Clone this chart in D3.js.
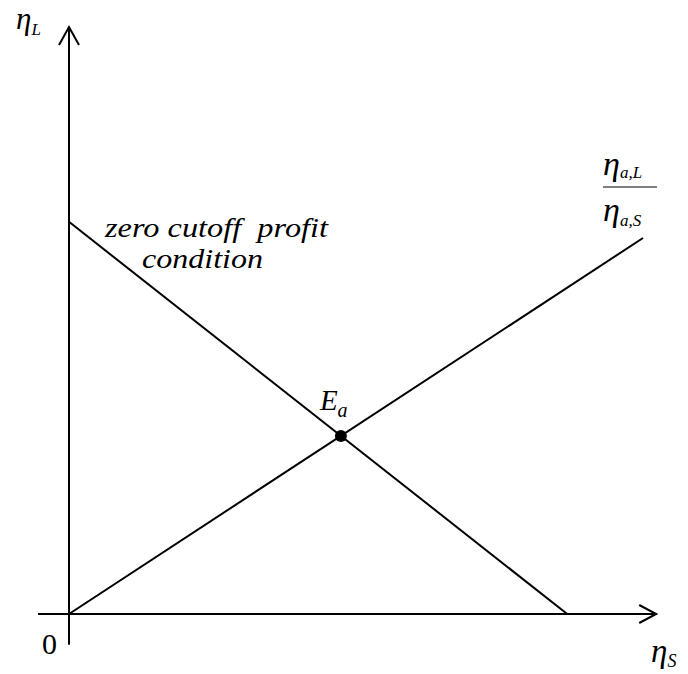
<!DOCTYPE html>
<html>
<head>
<meta charset="utf-8">
<script src="https://cdn.jsdelivr.net/npm/d3@7"></script>
<style>
  html, body { margin: 0; padding: 0; background: #fff; }
  svg { display: block; }
  text { font-family: "Liberation Serif", "Times New Roman", serif; fill: #000; }
</style>
</head>
<body>
<script>
// Model: share of skilled workers on the horizontal axis, labour on the vertical.
const xExtent = [-0.54, 10.23];        // horizontal axis span (eta_S)
const yExtent = [-0.82, 15.61];        // vertical axis span (eta_L)
const zeroProfit = [[0, 10.43], [8.68, 0]];   // zero cutoff profit condition
const ratioRay = [[0, 0], [10, 10]];           // eta_aL / eta_aS ray
const equilibrium = { x: 4.737, y: 4.737, label: "E", sub: "a" };
const curveLabel = ["zero cutoff  profit", "condition"];

const W = 688, H = 674;
const svg = d3.select("body").append("svg").attr("width", W).attr("height", H);

const x = d3.scaleLinear().domain([0, 10]).range([69, 643]);
const y = d3.scaleLinear().domain([0, 10]).range([614, 238]);

const line = d3.line().x(d => x(d[0])).y(d => y(d[1]));

// axes
svg.append("line")
  .attr("x1", x(xExtent[0])).attr("x2", x(xExtent[1]))
  .attr("y1", y(0)).attr("y2", y(0))
  .attr("stroke", "#000").attr("stroke-width", 2);
svg.append("line")
  .attr("x1", x(0)).attr("x2", x(0))
  .attr("y1", y(yExtent[0])).attr("y2", y(yExtent[1]))
  .attr("stroke", "#000").attr("stroke-width", 2);

// open arrow heads
const xt = [x(xExtent[1]), y(0)];
svg.append("path")
  .attr("d", `M${xt[0] - 17},${xt[1] - 9}L${xt[0]},${xt[1]}L${xt[0] - 17},${xt[1] + 9}`)
  .attr("fill", "none").attr("stroke", "#000").attr("stroke-width", 2);
const yt = [x(0), y(yExtent[1])];
svg.append("path")
  .attr("d", `M${yt[0] - 10},${yt[1] + 18}L${yt[0]},${yt[1]}L${yt[0] + 10},${yt[1] + 18}`)
  .attr("fill", "none").attr("stroke", "#000").attr("stroke-width", 2);

// curves
svg.append("path").attr("d", line(zeroProfit))
  .attr("fill", "none").attr("stroke", "#000").attr("stroke-width", 2);
svg.append("path").attr("d", line(ratioRay))
  .attr("fill", "none").attr("stroke", "#000").attr("stroke-width", 2);

// equilibrium point
svg.append("circle")
  .attr("cx", x(equilibrium.x)).attr("cy", y(equilibrium.y))
  .attr("r", 6).attr("fill", "#000");

// symbol with an italic subscript
function subLabel(px, py, main, sub, size, subSize, drop, mainItalic = true) {
  const t = svg.append("text").attr("x", px).attr("y", py)
    .attr("font-size", size);
  t.append("tspan").text(main).attr("font-style", mainItalic ? "italic" : "normal");
  t.append("tspan").text(sub).attr("font-style", "italic")
    .attr("font-size", subSize).attr("dy", drop);
  return t;
}

subLabel(16, 29, "η", "L", 31, 17, 6);
subLabel(651, 662, "η", "S", 33, 18, 5);
svg.append("text").attr("x", 42).attr("y", 654).attr("font-size", 30).text("0");

subLabel(x(equilibrium.x) - 21, y(equilibrium.y) - 26, equilibrium.label, equilibrium.sub, 29, 20, 7);

// fraction label for the ray
subLabel(603, 175, "η", "a,L", 34, 17, 3);
svg.append("line").attr("x1", 603).attr("x2", 657).attr("y1", 187).attr("y2", 187)
  .attr("stroke", "#555").attr("stroke-width", 1.6);
subLabel(603, 221, "η", "a,S", 34, 17, 5);

svg.append("text").attr("x", 105).attr("y", 237).attr("font-size", 27)
  .attr("font-style", "italic").attr("xml:space", "preserve")
  .attr("textLength", 223).attr("lengthAdjust", "spacingAndGlyphs")
  .text(curveLabel[0]);
svg.append("text").attr("x", 142).attr("y", 268).attr("font-size", 27)
  .attr("font-style", "italic")
  .attr("textLength", 121).attr("lengthAdjust", "spacingAndGlyphs")
  .text(curveLabel[1]);
</script>
</body>
</html>
